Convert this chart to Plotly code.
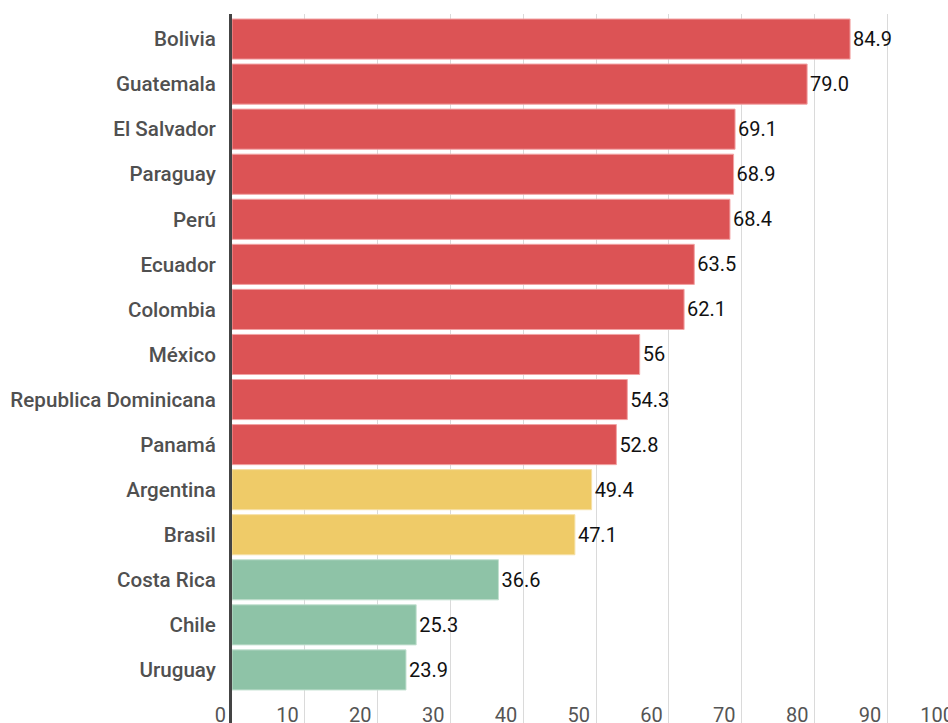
import plotly.graph_objects as go

countries = ["Bolivia", "Guatemala", "El Salvador", "Paraguay", "Perú", "Ecuador",
             "Colombia", "México", "Republica Dominicana", "Panamá", "Argentina",
             "Brasil", "Costa Rica", "Chile", "Uruguay"]
values = [84.9, 79.0, 69.1, 68.9, 68.4, 63.5, 62.1, 56, 54.3, 52.8, 49.4, 47.1, 36.6, 25.3, 23.9]
value_labels = ["84.9", "79.0", "69.1", "68.9", "68.4", "63.5", "62.1", "56", "54.3",
                "52.8", "49.4", "47.1", "36.6", "25.3", "23.9"]
groups = ["alto"] * 10 + ["medio"] * 2 + ["bajo"] * 3
group_colors = {"alto": "#DC5355", "medio": "#EFCB68", "bajo": "#8EC3A7"}
group_edges = {"alto": "#F2A3A4", "medio": "#F6E0A6", "bajo": "#C3E0D0"}
x_ticks = [0, 10, 20, 30, 40, 50, 60, 70, 80, 90, 100]

fig = go.Figure(go.Bar(
    x=values, y=countries, orientation="h",
    marker=dict(color=[group_colors[g] for g in groups],
                line=dict(color=[group_edges[g] for g in groups], width=1)),
    text=value_labels, textposition="outside", cliponaxis=False,
    textfont=dict(family="Roboto", size=20, color="#111111"),
    hoverinfo="skip",
))

fig.update_layout(
    width=960, height=732,
    margin=dict(l=232, r=0, t=14, b=0),
    paper_bgcolor="white", plot_bgcolor="white",
    bargap=0.11, showlegend=False,
    font=dict(family="Roboto"),
)
fig.update_xaxes(
    range=[0, 100], tickvals=x_ticks, ticktext=[str(t) for t in x_ticks],
    ticklabelposition="inside left", ticklabelshift=-6, ticklabeloverflow="allow",
    tickfont=dict(family="Roboto", size=20, color="#555555"),
    showgrid=True, gridcolor="#DADADA", gridwidth=1,
    zeroline=False, showline=False, ticks="",
)
fig.update_yaxes(
    categoryorder="array", categoryarray=countries,
    range=[15.378, -0.556],
    tickfont=dict(family="Roboto", size=20.6, color="#505050", weight=500),
    showline=True, linecolor="#444444", linewidth=3,
    ticks="", ticklabelstandoff=9, showgrid=False,
)

fig.write_html("out.html")
